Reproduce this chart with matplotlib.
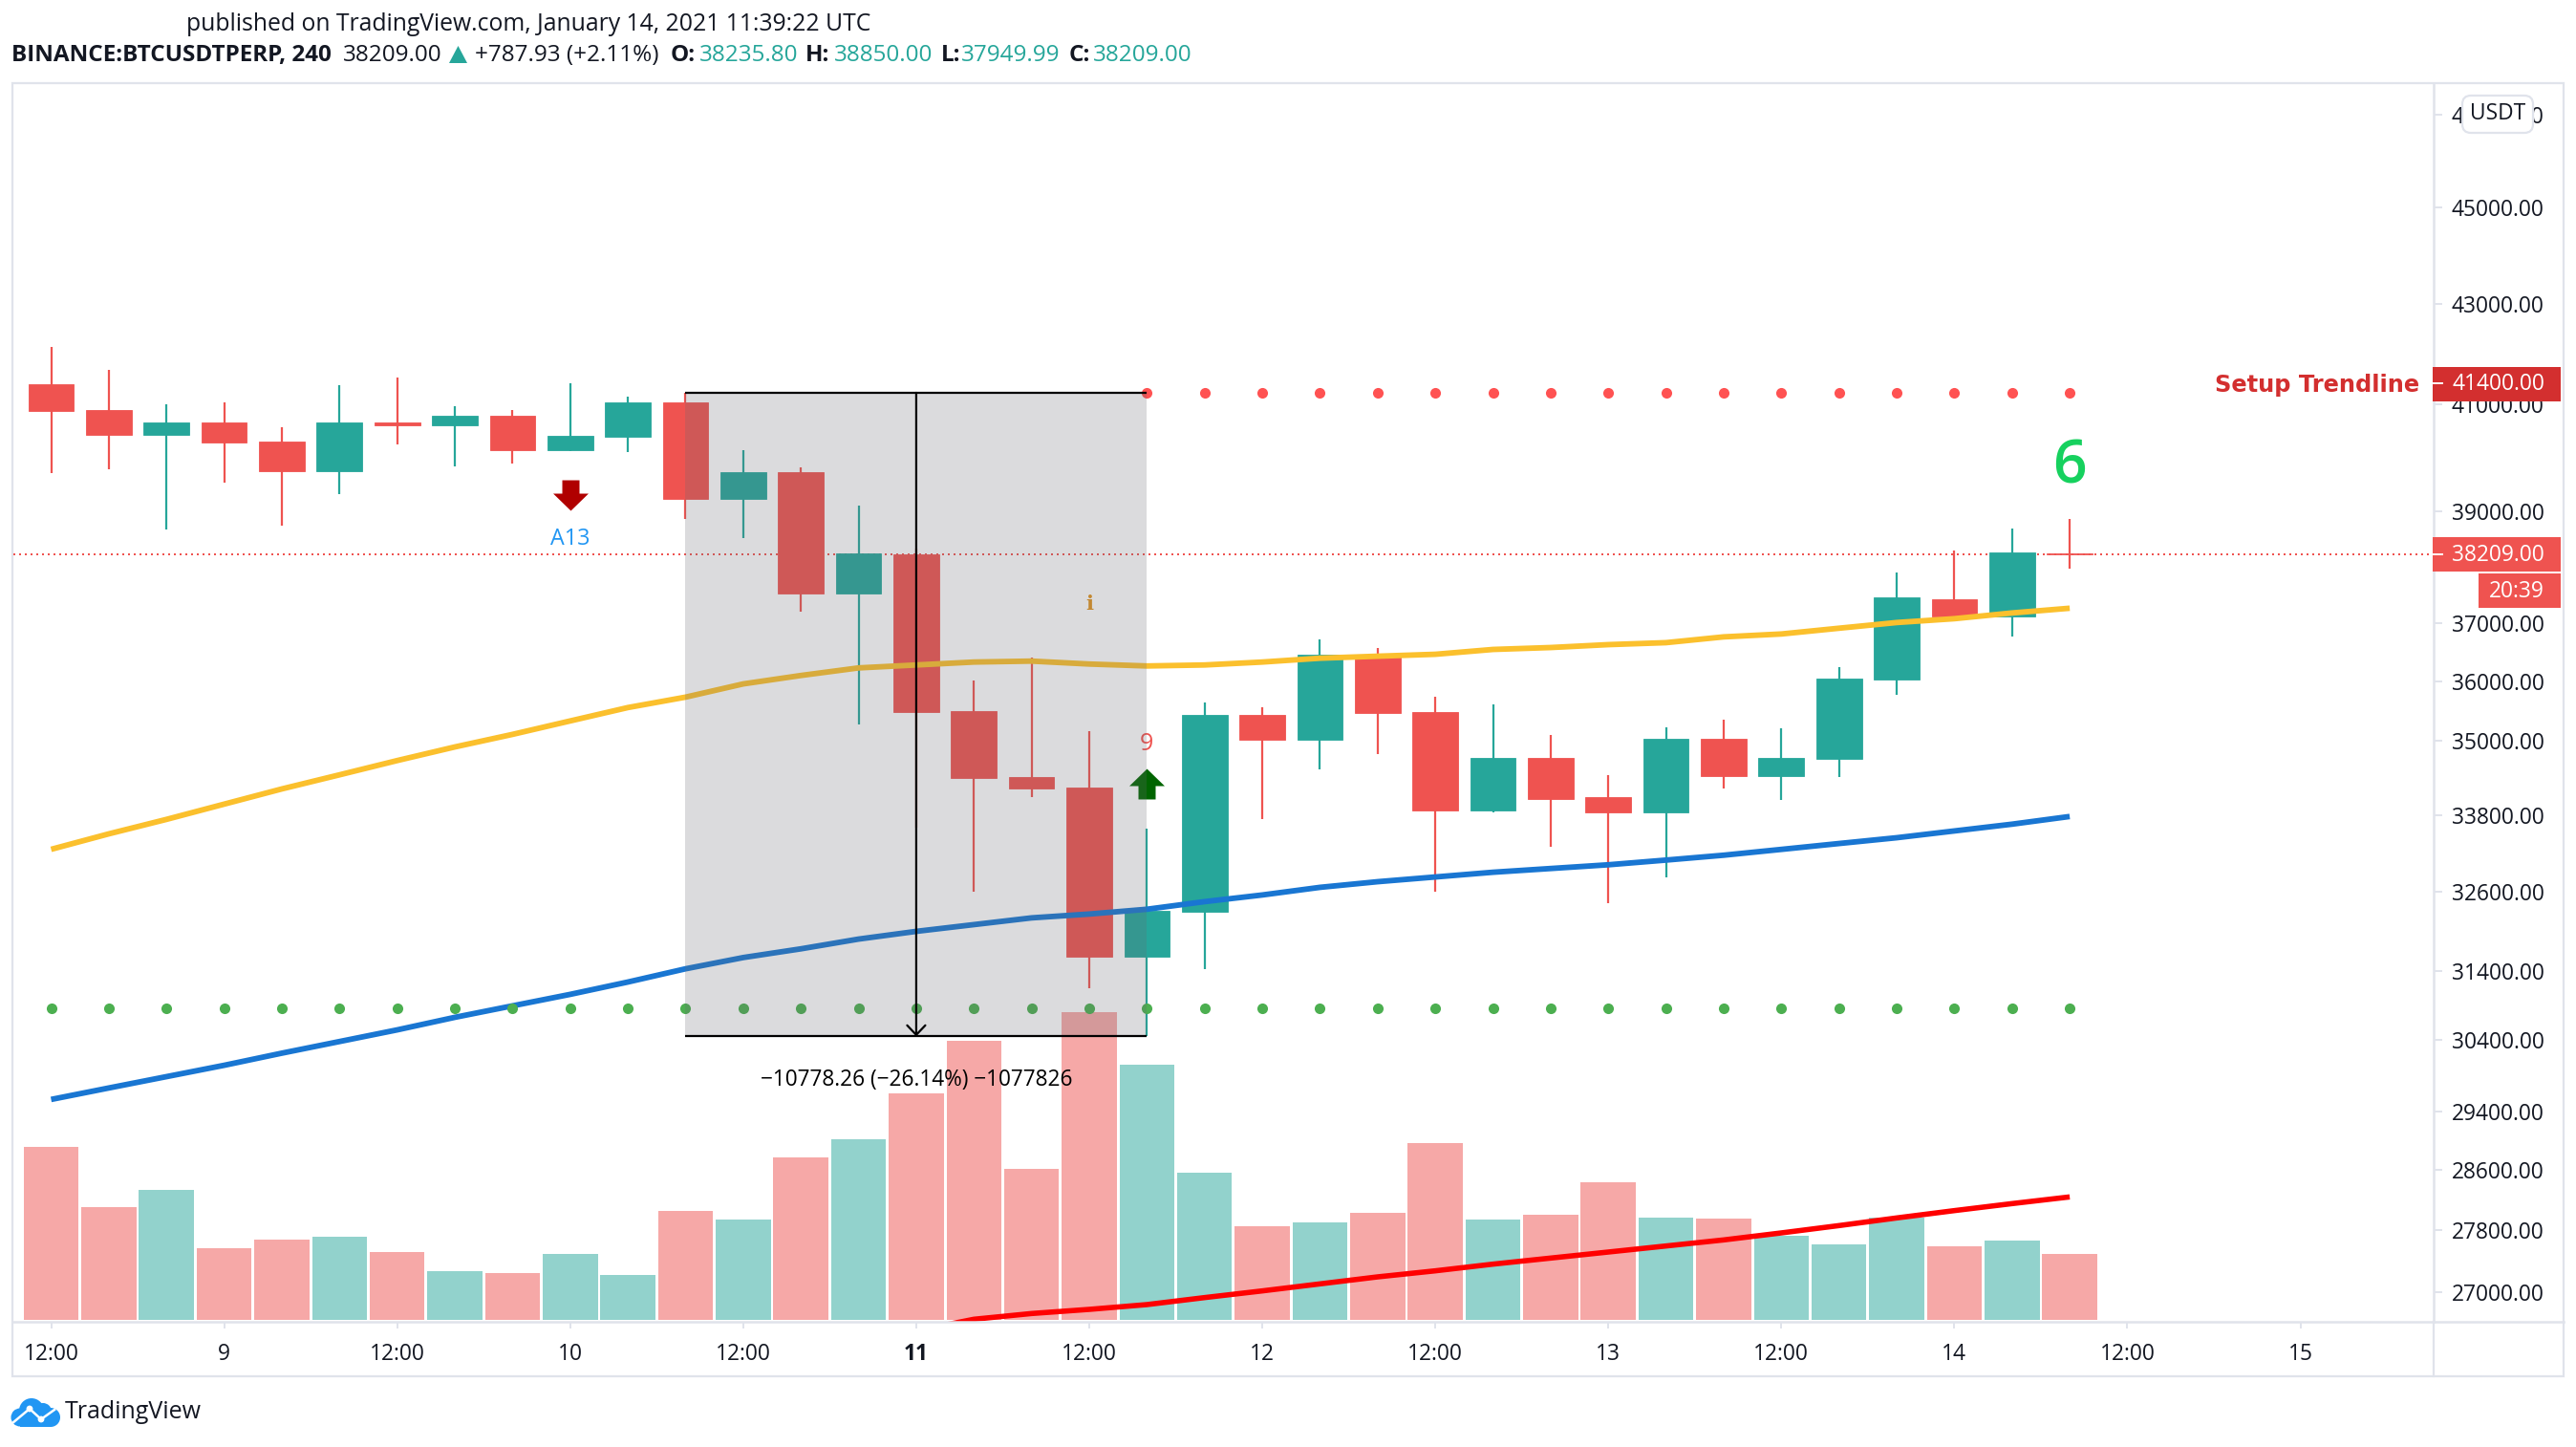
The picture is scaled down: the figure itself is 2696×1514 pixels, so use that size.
import matplotlib
matplotlib.use("Agg")
import matplotlib.pyplot as plt
import numpy as np
from matplotlib.patches import Rectangle, Polygon, Circle, FancyBboxPatch
from matplotlib.lines import Line2D
from matplotlib.path import Path
from matplotlib.transforms import Affine2D

plt.rcParams['font.family'] = ['Open Sans', 'DejaVu Sans']

opens  = [41401,40890,40417,40654,40289,39743,40654,40599,40781,40125,40380,41054,39231,39724,37521,38211,35489,34415,
          34232,31620,32289,35425,35011,36456,35473,33867,34724,34080,33836,35027,34430,34709,36031,37421,37105,38235.8]
highs  = [42123,41685,41000,41054,40562,41382,41532,40981,40890,41419,41164,41237,40125,39815,39092,38324,36015,36406,
          35155,33585,35633,35553,36705,36556,35728,35601,35091,34445,35219,35346,35203,36239,37888,38289,38673,38850]
lows   = [39706,39779,38656,39528,38726,39319,40234,39834,39888,40107,40089,38848,38499,37188,35266,33593,32595,34080,
          31147,30465,31439,33730,34537,34788,32595,33836,33303,32420,32828,34217,34034,34415,35760,37105,36756,37949.99]
closes = [40878,40417,40654,40271,39743,40654,40599,40781,40125,40399,41054,39231,39724,37521,38237,35473,34400,34217,
          31620,32304,35425,35011,36456,35457,33867,34724,34049,33836,35027,34430,34724,36047,37438,37105,38254,38209]
volumes = [543,354,408,225,252,261,213,153,147,207,141,342,315,510,567,711,876,474,
           966,801,462,294,306,336,555,315,330,432,321,318,264,237,321,231,249,207]
vol_up = [0,0,1,0,0,1,0,1,0,1,1,0,1,0,1,0,0,0,0,1,1,0,1,0,0,1,0,0,1,0,1,1,1,0,1,0]
vol_ma_idx = list(range(15, 36))
vol_ma = [-34,2,20,33,48,70,91,113,135,154,175,194,213,232,251,273,296,320,343,365,386]
ma_blue = [29564,29724,29883,30043,30215,30381,30548,30729,30896,31063,31244,31439,31606,31736,31882,31998,32100,32202,
           32260,32333,32449,32551,32668,32755,32828,32901,32959,33017,33090,33166,33257,33349,33440,33547,33654,33776]
ma_yellow = [33258,33501,33730,33973,34217,34445,34677,34900,35107,35330,35553,35728,35951,36094,36223,36273,36323,36339,
             36289,36256,36273,36323,36389,36423,36456,36539,36572,36622,36656,36756,36806,36906,37005,37072,37172,37255]
resist_level = 41232.26
resist_idx = list(range(19, 36))
support_level = 30859
last_price = 38209
drop = 10778.26
box_start, box_end = 11, 19
ytick_values = [47000,45000,43000,41000,39000,37000,36000,35000,33800,32600,31400,30400,29400,28600,27800,27000]
xtick_idx = [0,3,6,9,12,15,18,21,24,27,30,33,36,39]
xtick_labels = ['12:00','9','12:00','10','12:00','11','12:00','12','12:00','13','12:00','14','12:00','15']

W, H = 2696, 1514
DPI = 200
INK = '#131722'
RED = '#ef5350'
TEAL = '#26a69a'
EDGE = '#e0e3eb'

fig = plt.figure(figsize=(W/DPI, H/DPI), dpi=DPI, facecolor='white')
pix = Affine2D().scale(1/W, -1/H).translate(0, 1) + fig.transFigure

L, R, T, B = 14, 2547, 87, 1383
pos = [L/W, 1-B/H, (R-L)/W, (B-T)/H]
ax2 = fig.add_axes(pos, zorder=1)
ax = fig.add_axes(pos, zorder=2)
ax.patch.set_alpha(0)
XL = (-0.6545, 41.31)
n = len(opens)
idx = np.arange(n)

# volume pane
ax2.set_xlim(*XL)
ax2.set_ylim(-6, 3882)
ax2.bar(idx, volumes, width=0.953, color=[TEAL if u else RED for u in vol_up], alpha=0.5, linewidth=0)
ax2.plot(vol_ma_idx, vol_ma, color='#ff0000', lw=2.0, solid_capstyle='butt')
ax2.axis('off')

# price pane
ax.set_yscale('log')
ax.set_xlim(*XL)
ax.set_ylim(26626, 47701)
ax.minorticks_off()
ax.hlines(last_price, XL[0], XL[1], color=RED, lw=0.72, linestyle=(0, (1, 2)), zorder=1)
colors = [TEAL if u else RED for u in vol_up]
ax.vlines(idx, lows, highs, color=colors, lw=0.8, zorder=2)
tops = np.maximum(opens, closes)
bots = np.minimum(opens, closes)
ax.bar(idx, tops-bots, bottom=bots, width=0.79, color=colors, edgecolor=colors, linewidth=0.3, zorder=3)
ax.plot(idx, ma_yellow, color='#fbc02d', lw=2.1, solid_capstyle='butt', zorder=4)
ax.plot(idx, ma_blue, color='#1976d2', lw=2.1, solid_capstyle='butt', zorder=4)
ax.plot(idx, [support_level]*n, ls='none', marker='o', ms=4, mew=0, color='#4caf50', zorder=4)
ax.plot(resist_idx, [resist_level]*len(resist_idx), ls='none', marker='o', ms=4, mew=0, color='#ff5252', zorder=4)

# signal arrows
arrow_dn = Path([(-9,16),(9,16),(9,2),(18.5,2),(0,-16),(-18.5,2),(-9,2),(-9,16)], closed=True)
arrow_up = Path([(-9,-16),(9,-16),(9,-2),(18.5,-2),(0,16),(-18.5,-2),(-9,-2),(-9,-16)], closed=True)
ax.plot([9], [39301], ls='none', marker=arrow_dn, ms=13.3, mew=0, color='#b00000', zorder=5)
ax.plot([19], [34301], ls='none', marker=arrow_up, ms=13.3, mew=0, color='#006400', zorder=5)
ax.text(9, 38480, 'A13', color='#2196f3', fontsize=8.4, ha='center', va='center', zorder=5)
ax.text(19, 34945, '9', color=RED, fontsize=9, weight='medium', ha='center', va='center', zorder=5)
ax.text(18, 37321, 'i', color='#e0921f', fontsize=7.5, family='DejaVu Serif', weight='bold', ha='center', va='center', zorder=5)
ax.text(35, 39818, '6', color='#16d15e', fontsize=22.5, weight=600, ha='center', va='center', zorder=5)

# measure box
box_bottom = resist_level - drop
ax.add_patch(Rectangle((box_start, box_bottom), box_end-box_start, resist_level-box_bottom,
                       facecolor='#676a70', alpha=0.235, linewidth=0, zorder=6))
ax.hlines([resist_level, box_bottom], box_start, box_end, color='black', lw=0.8, zorder=7)
mid = (box_start+box_end)/2
ax.annotate('', xy=(mid, box_bottom), xytext=(mid, resist_level), zorder=7,
            arrowprops=dict(arrowstyle='->,head_length=0.4,head_width=0.38', lw=0.8, color='black',
                            mutation_scale=9, shrinkA=0, shrinkB=0))
ax.text(mid, 29830, '\u221210778.26 (\u221226.14%) \u22121077826', color='black', fontsize=8.15, ha='center', va='center', zorder=8)

# axes styling
for s in ['top', 'left', 'bottom']:
    ax.spines[s].set_visible(False)
ax.spines['right'].set_color(EDGE)
ax.spines['right'].set_linewidth(0.9)
ax.yaxis.tick_right()
ax.set_yticks(ytick_values)
ax.set_yticklabels([f'{v:.2f}' for v in ytick_values], va='center_baseline')
ax.tick_params(axis='y', which='major', length=3.2, width=0.7, color=EDGE, pad=3.6, labelsize=8.2, labelcolor=INK)
ax.tick_params(axis='y', which='minor', length=0)
ax.set_xticks(xtick_idx)
ax.set_xticklabels(xtick_labels)
ax.tick_params(axis='x', length=2.6, width=0.7, color=EDGE, pad=5.4, labelsize=8.2, labelcolor=INK)
for lab, txt in zip(ax.get_xticklabels(), xtick_labels):
    if txt == '11':
        lab.set_fontweight('bold')

# chrome
def frect(x0, y0, x1, y1, fc, ec='none', lw=0, z=10):
    fig.add_artist(Rectangle((x0, y0), x1-x0, y1-y0, transform=pix, facecolor=fc, edgecolor=ec, linewidth=lw, zorder=z))

def ftext(x, y, s, color=INK, size=8.7, ha='left', weight='normal', z=12, **kw):
    fig.text(x, y, s, transform=pix, color=color, fontsize=size, ha=ha, va='center', fontweight=weight, zorder=z, **kw)

frect(13, 87, 2683, 1440, 'none', EDGE, 0.8, z=0.5)
fig.add_artist(Line2D([13, 2683], [1383, 1383], transform=pix, color=EDGE, lw=0.9, zorder=3))
fig.add_artist(Line2D([2547, 2547], [1383, 1440], transform=pix, color=EDGE, lw=0.8, zorder=3))

frect(2546, 384, 2680, 420, '#d32f2f')
ftext(2663, 402.5, '41400.00', color='white', size=8.2, ha='right')
frect(2546, 562, 2680, 598, RED)
ftext(2663, 581, '38209.00', color='white', size=8.2, ha='right')
frect(2594, 600, 2680, 636, RED)
ftext(2663, 619, '20:39', color='white', size=8.2, ha='right')
for yy, x0 in [(401, 2546), (579.5, 2546)]:
    fig.add_artist(Line2D([x0, 2556], [yy, yy], transform=pix, color='white', lw=0.7, zorder=11))
ftext(2532, 403, 'Setup Trendline', color='#d32f2f', size=8.7, ha='right', weight='bold', family='DejaVu Sans')

fig.add_artist(FancyBboxPatch((2583, 106), 62, 27, boxstyle='round,pad=6,rounding_size=9', transform=pix,
                              facecolor='white', edgecolor=EDGE, linewidth=0.8, zorder=10))
ftext(2614, 119, 'USDT', size=8.2, ha='center')

ftext(195, 26, 'published on TradingView.com, January 14, 2021 11:39:22 UTC', size=8.9)
ftext(12, 58, 'BINANCE:BTCUSDTPERP, 240', size=8.75, weight='bold')
ftext(359, 58, '38209.00', size=8.75)
fig.add_artist(Polygon([(470, 66), (479.5, 48), (489, 66)], closed=True, transform=pix, facecolor=TEAL, edgecolor='none', zorder=10))
ftext(497, 58, '+787.93 (+2.11%)', size=8.75)
for xl, lab, xv, val in [(702, 'O:', 732, '38235.80'), (843, 'H:', 873, '38850.00'),
                         (985, 'L:', 1006, '37949.99'), (1119, 'C:', 1144, '38209.00')]:
    ftext(xl, 58, lab, size=8.75, weight='bold')
    ftext(xv, 58, val, color=TEAL, size=8.75)

# TradingView logo
LOGO = '#2196f3'
for cx, cy, r in [(33, 1476, 13), (21, 1483, 9.5), (45, 1477, 9), (53, 1483, 10)]:
    fig.add_artist(Circle((cx, cy), r, transform=pix, facecolor=LOGO, edgecolor='none', zorder=10))
frect(21, 1480, 53, 1493, LOGO)
fig.add_artist(Line2D([13, 31, 43, 57], [1489, 1474, 1485, 1475], transform=pix, color='white', lw=0.9, zorder=11))
fig.add_artist(Circle((31, 1474), 3.4, transform=pix, facecolor='white', edgecolor='none', zorder=11))
fig.add_artist(Circle((43, 1485), 3.4, transform=pix, facecolor='white', edgecolor='none', zorder=11))
ftext(68, 1477, 'TradingView', size=9)

fig.savefig('out.png', dpi=DPI, facecolor='white')
